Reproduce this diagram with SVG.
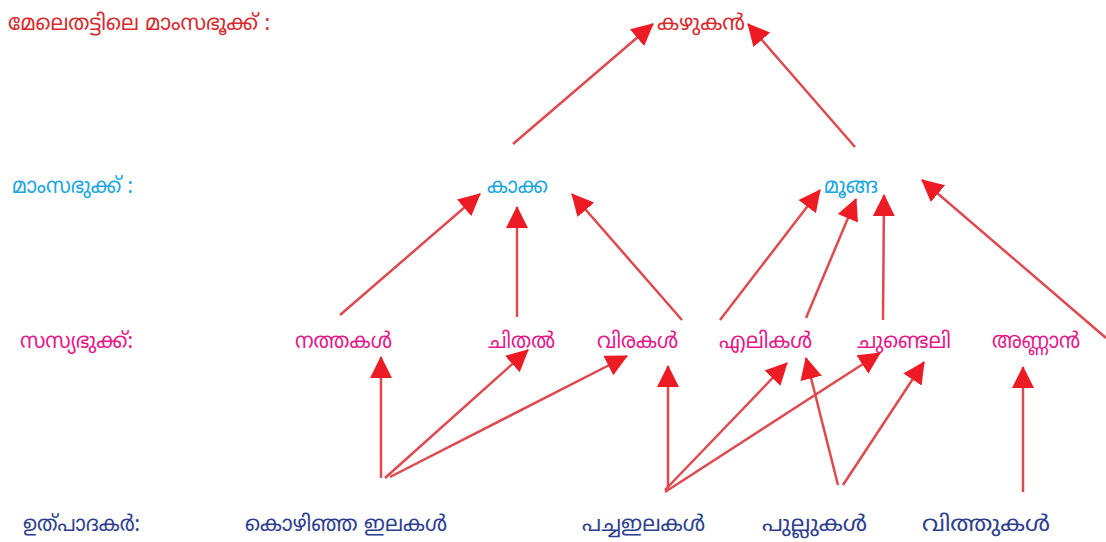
<svg xmlns="http://www.w3.org/2000/svg" width="1106" height="542" viewBox="0 0 1106 542">
<style>
text{font-family:"Noto Sans Malayalam","Noto Sans",sans-serif;font-size:22px}
.t1{fill:#d62a30}
.t2{fill:#1ba6e0}
.t3{fill:#e3198a}
.t4{fill:#2d3e8e}
.c{fill:none;stroke:#dd4a50;stroke-width:2.5}
</style>
<defs>
<marker id="ah" markerUnits="userSpaceOnUse" markerWidth="24" markerHeight="24" viewBox="0 0 24 24" refX="21" refY="12" orient="auto">
<path d="M0,1 L22,12 L0,23 z" fill="#ed1c24"/>
</marker>
</defs>
<rect width="1106" height="542" fill="#fff"/>
<g id="labels">
<text class="t1" x="8" y="30" textLength="262" lengthAdjust="spacingAndGlyphs">മേലെതട്ടിലെ മാംസഭൂക്ക് :</text>
<text class="t2" x="12" y="193" textLength="121" lengthAdjust="spacingAndGlyphs">മാംസഭുക്ക് :</text>
<text class="t3" x="20" y="348" textLength="113" lengthAdjust="spacingAndGlyphs">സസ്യഭുക്ക്:</text>
<text class="t4" x="23" y="531" textLength="117" lengthAdjust="spacingAndGlyphs">ഉത്പാദകർ:</text>
</g>
<g id="n-kazhukan"><text class="t1" x="657" y="30" textLength="88" lengthAdjust="spacingAndGlyphs">കഴുകൻ</text></g>
<g id="n-kaakka"><text class="t2" x="487" y="193" textLength="61" lengthAdjust="spacingAndGlyphs">കാക്ക</text></g>
<g id="n-moonga"><text class="t2" x="824" y="193" textLength="54" lengthAdjust="spacingAndGlyphs">മൂങ്ങ</text></g>
<g id="n-nathakal"><text class="t3" x="295" y="348" textLength="97" lengthAdjust="spacingAndGlyphs">നത്തകൾ</text></g>
<g id="n-chithal"><text class="t3" x="488" y="348" textLength="67" lengthAdjust="spacingAndGlyphs">ചിതൽ</text></g>
<g id="n-virakal"><text class="t3" x="597" y="348" textLength="81" lengthAdjust="spacingAndGlyphs">വിരകൾ</text></g>
<g id="n-elikal"><text class="t3" x="719" y="348" textLength="93" lengthAdjust="spacingAndGlyphs">എലികൾ</text></g>
<g id="n-chundeli"><text class="t3" x="857" y="348" textLength="94" lengthAdjust="spacingAndGlyphs">ചുണ്ടെലി</text></g>
<g id="n-annaan"><text class="t3" x="992" y="348" textLength="88" lengthAdjust="spacingAndGlyphs">അണ്ണാൻ</text></g>
<g id="n-kozhinja"><text class="t4" x="245" y="531" textLength="202" lengthAdjust="spacingAndGlyphs">കൊഴിഞ്ഞ ഇലകൾ</text></g>
<g id="n-pacha"><text class="t4" x="582" y="531" textLength="123" lengthAdjust="spacingAndGlyphs">പച്ചഇലകൾ</text></g>
<g id="n-pullukal"><text class="t4" x="762" y="531" textLength="105" lengthAdjust="spacingAndGlyphs">പുല്ലുകൾ</text></g>
<g id="n-vithukal"><text class="t4" x="922" y="531" textLength="128" lengthAdjust="spacingAndGlyphs">വിത്തുകൾ</text></g>
<g id="connectors">
<line class="c" x1="513" y1="144" x2="653" y2="24" marker-end="url(#ah)"/>
<line class="c" x1="855" y1="147" x2="748" y2="24" marker-end="url(#ah)"/>
<line class="c" x1="340" y1="315" x2="480" y2="194" marker-end="url(#ah)"/>
<line class="c" x1="517" y1="317" x2="517" y2="207" marker-end="url(#ah)"/>
<line class="c" x1="682" y1="320" x2="572" y2="194" marker-end="url(#ah)"/>
<line class="c" x1="720" y1="320" x2="820" y2="190" marker-end="url(#ah)"/>
<line class="c" x1="806" y1="318" x2="856" y2="199" marker-end="url(#ah)"/>
<line class="c" x1="883" y1="320" x2="884" y2="195" marker-end="url(#ah)"/>
<line class="c" x1="1106" y1="338" x2="922" y2="180" marker-end="url(#ah)"/>
<line class="c" x1="381" y1="478" x2="381" y2="357" marker-end="url(#ah)"/>
<line class="c" x1="385" y1="478" x2="528" y2="350" marker-end="url(#ah)"/>
<line class="c" x1="390" y1="477" x2="627" y2="356" marker-end="url(#ah)"/>
<line class="c" x1="668" y1="490" x2="668" y2="366" marker-end="url(#ah)"/>
<line class="c" x1="665" y1="490" x2="787" y2="363" marker-end="url(#ah)"/>
<line class="c" x1="665" y1="492" x2="880" y2="353" marker-end="url(#ah)"/>
<line class="c" x1="838" y1="485" x2="806" y2="358" marker-end="url(#ah)"/>
<line class="c" x1="843" y1="485" x2="924" y2="362" marker-end="url(#ah)"/>
<line class="c" x1="1023" y1="492" x2="1023" y2="367" marker-end="url(#ah)"/>
</g>
</svg>
